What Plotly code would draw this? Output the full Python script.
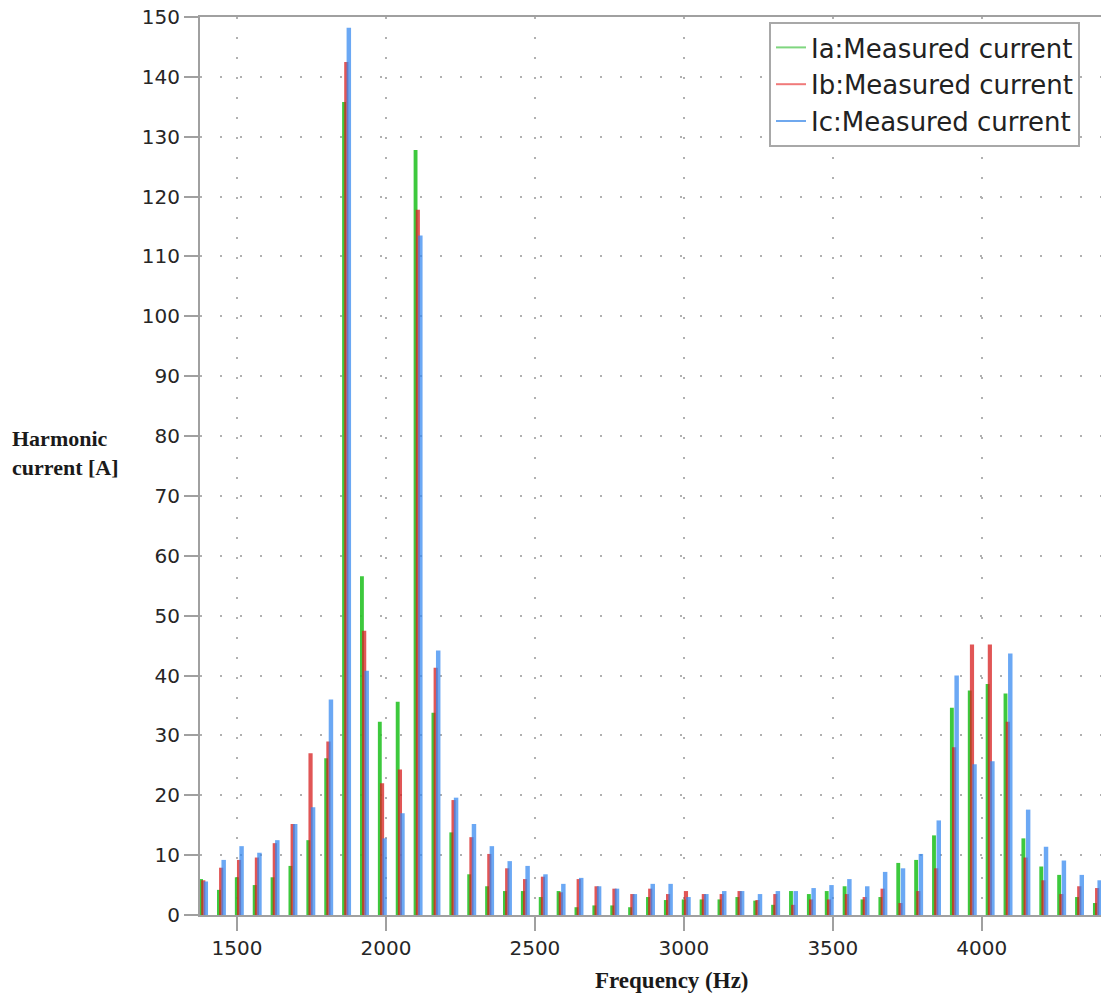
import plotly.graph_objects as go

# Harmonic frequencies (Hz)
freq = [1380, 1440, 1500, 1560, 1620, 1680, 1740, 1800, 1860, 1920,
        1980, 2040, 2100, 2160, 2220, 2280, 2340, 2400, 2460, 2520,
        2580, 2640, 2700, 2760, 2820, 2880, 2940, 3000, 3060, 3120,
        3180, 3240, 3300, 3360, 3420, 3480, 3540, 3600, 3660, 3720,
        3780, 3840, 3900, 3960, 4020, 4080, 4140, 4200, 4260, 4320, 4380]

ia = [6.0, 4.2, 6.3, 5.0, 6.3, 8.2, 12.5, 26.2, 135.8, 56.6,
      32.3, 35.6, 127.8, 33.8, 13.8, 6.8, 4.8, 4.0, 4.0, 3.0,
      4.0, 1.3, 1.6, 1.6, 1.3, 3.0, 2.5, 2.6, 2.6, 2.6,
      3.0, 2.4, 1.7, 4.0, 3.5, 4.0, 4.8, 2.6, 3.0, 8.7,
      9.2, 13.3, 34.6, 37.5, 38.6, 37.0, 12.8, 8.1, 6.7, 3.0, 2.0]

ib = [5.8, 7.9, 9.2, 9.6, 12.0, 15.2, 27.0, 29.0, 142.5, 47.5,
      22.0, 24.3, 117.8, 41.3, 19.2, 13.0, 10.2, 7.8, 6.0, 6.4,
      3.8, 6.0, 4.8, 4.4, 3.5, 4.4, 3.5, 4.0, 3.5, 3.5,
      4.0, 2.5, 3.5, 1.7, 2.6, 2.6, 3.5, 3.0, 4.4, 2.0,
      4.0, 7.8, 28.0, 45.2, 45.2, 32.3, 9.6, 5.8, 3.5, 4.8, 4.5]

ic = [5.6, 9.2, 11.5, 10.4, 12.5, 15.2, 18.0, 36.0, 148.2, 40.8,
      12.8, 17.0, 113.5, 44.2, 19.6, 15.2, 11.5, 9.0, 8.2, 6.8,
      5.2, 6.2, 4.8, 4.4, 3.5, 5.2, 5.2, 3.0, 3.5, 4.0,
      4.0, 3.5, 4.0, 4.0, 4.5, 5.0, 6.0, 4.8, 7.2, 7.8,
      10.2, 15.8, 40.0, 25.2, 25.7, 43.7, 17.6, 11.4, 9.1, 6.7, 5.8]

names = ["Ia:Measured current", "Ib:Measured current", "Ic:Measured current"]
bar_colors = ["rgba(40,195,40,0.9)", "rgba(215,30,30,0.75)", "rgba(50,135,240,0.72)"]
legend_colors = ["#7fd67f", "#f07a7a", "#6fa8ee"]
offsets = [-7, 0, 8]
widths = [13, 14, 15]

fig = go.Figure()
for vals, col, off, w in zip([ia, ib, ic], bar_colors, offsets, widths):
    fig.add_trace(go.Bar(x=freq, y=vals, offset=off, width=w,
                         marker=dict(color=col, line=dict(width=0)),
                         showlegend=False))
for name, col in zip(names, legend_colors):
    fig.add_trace(go.Scatter(x=[None], y=[None], mode="lines", name=name,
                             line=dict(color=col, width=2)))

W, H = 1101, 1002
L, R, T, B = 200, 0, 17, 87
pw, ph = W - L - R, H - T - B

def px(xp):
    return (xp - L) / pw

def py(yp):
    return (H - B - yp) / ph

axis_font = dict(family="DejaVu Sans", size=20, color="#262626")
fig.update_layout(
    width=W, height=H,
    margin=dict(l=L, r=R, t=T, b=B, pad=0),
    paper_bgcolor="white", plot_bgcolor="white",
    barmode="overlay",
    xaxis=dict(range=[1376, 4400], tickvals=[1500, 2000, 2500, 3000, 3500, 4000],
               showgrid=True, gridcolor="#b0b0b0", gridwidth=2, griddash="2px,18px",
               showline=True, linecolor="#a0a0a0", linewidth=2, mirror=True,
               ticks="outside", ticklen=14, tickcolor="#a0a0a0", tickwidth=2,
               tickfont=axis_font, zeroline=False),
    yaxis=dict(range=[0, 150], dtick=10,
               showgrid=True, gridcolor="#b0b0b0", gridwidth=2, griddash="2px,18px",
               showline=True, linecolor="#a0a0a0", linewidth=2,
               ticks="outside", ticklen=14, tickcolor="#a0a0a0", tickwidth=2,
               tickfont=axis_font, zeroline=False),
    legend=dict(x=px(769), y=py(22), xanchor="left", yanchor="top",
                bgcolor="white", bordercolor="#a8a8a8", borderwidth=2,
                font=dict(family="DejaVu Sans", size=26, color="#222"),
                itemwidth=30, tracegroupgap=0),
    annotations=[
        dict(text="<b>Harmonic<br>current [A]</b>", xref="paper", yref="paper",
             x=px(10), y=py(453), xanchor="left", yanchor="middle", align="left",
             showarrow=False, font=dict(family="Liberation Serif", size=22, color="#1a1a1a")),
        dict(text="<b>Frequency (Hz)</b>", xref="paper", yref="paper",
             x=px(672), y=py(980), xanchor="center", yanchor="middle",
             showarrow=False, font=dict(family="Liberation Serif", size=23, color="#1a1a1a")),
    ],
)

fig.write_html("out.html")
